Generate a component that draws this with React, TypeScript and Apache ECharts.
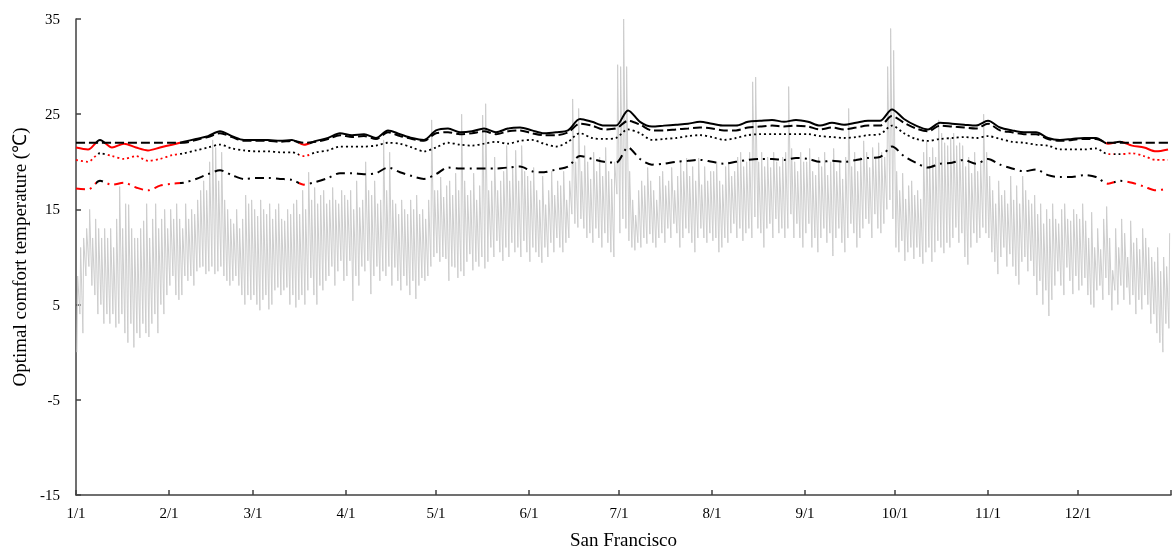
import React, { useEffect, useRef } from "react";
import * as echarts from "echarts";

const monthStarts = [0, 31, 59, 90, 120, 151, 181, 212, 243, 273, 304, 334];
const monthLabels = ["1/1", "2/1", "3/1", "4/1", "5/1", "6/1", "7/1", "8/1", "9/1", "10/1", "11/1", "12/1"];
const yTicks = [-15, -5, 5, 15, 25, 35];
const comfortFloor = 22;

// Daily outdoor temperature envelope (max / min)
const janMax = [8, 11, 12, 13, 15, 12, 14, 13, 12, 13, 12, 13, 11, 14, 17.4, 13, 15.6, 15.5, 13, 12, 12, 13, 13.8, 15.6, 12, 14, 15.6, 13, 14, 15, 13];
const janMin = [0, 4, 2, 8, 9, 7, 6, 4, 5, 3, 4, 3, 4, 2.6, 3, 4, 2, 1, 3, 0.5, 2, 1.5, 3, 2, 1.6, 3, 4, 2, 5, 4, 6];
const febMax = [15, 14, 15.6, 14, 13, 15.6, 14, 15, 14.5, 16, 17, 18, 17, 20, 22.3, 21.5, 18, 21, 16, 15, 14, 13.5, 15, 13, 14, 16.5, 15.6, 16];
const febMin = [7, 8, 6, 5.5, 6, 8, 7.5, 8, 7, 8.5, 8.9, 9, 8.2, 8.5, 9, 8.2, 8.5, 9, 8, 7.5, 7, 7.5, 8, 7, 6, 5, 6, 5.5];
const marMax = [15, 14.3, 16, 15, 14.5, 15.6, 14, 15, 15.6, 14, 13.8, 15, 14.5, 15.6, 16, 14.5, 17, 15, 18.9, 16, 17.3, 15.6, 16.5, 17, 15.6, 16, 17.3, 16, 15.6, 17, 16.5];
const marMin = [6, 5, 4.4, 5.5, 6, 4.5, 5, 6.5, 6.8, 6, 6.5, 6.8, 5, 6, 4.7, 5.5, 6, 5, 6.5, 7.8, 6, 5, 7, 6.5, 7.5, 8, 9, 7, 8.5, 9.6, 7.5];
const aprMax = [16, 17, 15, 18, 15.2, 16, 20, 17, 16.5, 18, 15.6, 16, 22.3, 17, 21, 16, 15.6, 14.5, 16, 15, 14.5, 16, 15, 16.5, 14.5, 15, 14, 16, 24.4, 17];
const aprMin = [8, 9.6, 5.4, 8, 7, 9, 8.5, 9.6, 6.1, 8, 9, 7.5, 8.5, 8, 9, 7, 8.9, 7.5, 6.5, 8, 7, 6, 7.5, 5.6, 7, 7.8, 7.5, 8, 9, 10];
const mayMax = [17, 18.4, 16.3, 17.5, 18, 16.5, 18.8, 17, 25, 18, 16.5, 17, 18.8, 16, 17.5, 24.9, 26.1, 17, 18, 20.5, 17, 18, 19, 21.7, 18, 19.5, 21.2, 18, 21.7, 19, 18.5];
const mayMin = [10.4, 9.5, 10, 9.8, 7.5, 9, 8.9, 7.8, 8.5, 8, 9.5, 10.3, 8.6, 9.5, 9, 10, 8.8, 9.5, 11, 10, 11.7, 10.5, 9.6, 11, 10, 11.5, 10.5, 11, 10, 11.7, 10.5];
const junMax = [18, 19.4, 17, 16, 18.5, 15.5, 17, 19, 16.5, 18, 17.5, 19, 16, 18, 26.6, 20, 25.6, 19, 21.7, 20, 18.2, 21, 19, 20.5, 18.5, 21.5, 19, 18.2, 20, 30.2];
const junMin = [9.5, 11, 10.5, 10, 9.4, 11, 10, 11.5, 10.5, 12, 11, 10.5, 11.5, 12, 14.5, 13.5, 13.1, 14, 13, 12, 12.5, 11.5, 13, 12, 11, 12.5, 11.5, 10.5, 10, 16.6];
const julMax = [30, 35, 30, 19, 16, 14.4, 17, 18, 17.5, 19.4, 18, 17, 16, 18.5, 19, 17.5, 18, 19.4, 17, 18.5, 20, 19, 20.4, 18.5, 19.5, 18, 20.4, 17.6, 19.5, 18, 19];
const julMin = [12.5, 14, 13, 11.7, 11, 10.7, 11.5, 11, 12, 11.4, 12.4, 11.5, 11, 12, 12.5, 11.5, 13, 12, 13.5, 12.5, 11, 12, 13, 12.5, 11.5, 10.5, 12, 13, 12, 11.5, 12.5];
const augMax = [19, 20, 18, 17.6, 19.5, 20, 18.5, 19, 20.5, 21, 19.5, 20, 21, 28.4, 28.9, 20, 21, 19.5, 20.5, 19.4, 21, 20, 19.5, 20.5, 21, 27.9, 21.4, 20, 19, 21, 20];
const augMin = [11.7, 12, 10.5, 11, 12, 11.5, 12.5, 13.5, 12, 13, 11.7, 12.5, 13, 12, 14.2, 13, 12.5, 11, 13, 13.5, 12, 14, 12.5, 13, 12, 13, 14.5, 12, 13.5, 12, 11];
const sepMax = [20, 21.4, 19, 18.6, 20.5, 19.5, 21, 18.6, 20, 21.4, 19, 20, 18.2, 20.5, 25.6, 19.5, 21, 19, 20.5, 22.2, 21, 19.4, 21.5, 20.5, 22, 21, 20.5, 30, 34, 31.7];
const sepMin = [12.5, 13.5, 11, 12, 10.5, 12, 13, 11.5, 12.5, 10.1, 12, 13, 11.5, 10.5, 12, 13.5, 12.5, 11, 12, 13, 14, 13.5, 12, 14.5, 13, 12.5, 13.5, 15, 16, 14];
const octMax = [19, 17, 18.8, 16.1, 17.5, 18, 16.5, 17, 16.1, 21, 22.3, 20.5, 21.5, 20.5, 24.4, 23, 22, 21.7, 22.5, 23, 21.7, 22, 21.7, 19.5, 20.5, 18.8, 21, 19, 20, 25, 21];
const octMin = [11, 10.5, 11.7, 9.6, 10.5, 11, 9.8, 11, 10, 9.3, 10.5, 11, 9.5, 10.5, 11.7, 11, 10.4, 11.5, 11, 12, 13.1, 11.5, 12.5, 10, 9.2, 11, 12.5, 11.5, 12, 13.1, 12.5];
const novMax = [18.5, 17, 15.6, 18, 16.5, 17, 15.6, 18.5, 16, 17.5, 15.6, 18.5, 17, 16, 15.6, 16.5, 14.5, 15.6, 13.5, 15, 14, 15.6, 14, 13.5, 15, 15.6, 14, 13.8, 15, 14.5];
const novMin = [12, 10.5, 9.5, 8.2, 10, 11, 9, 10.3, 9, 8, 7.1, 9.5, 10, 8.5, 9.6, 8, 6, 7.5, 5, 6.5, 3.8, 5.5, 7, 8.5, 7, 6, 8.9, 7.5, 6.1, 8];
const decMax = [14, 15.6, 13.8, 12, 14.7, 11, 13, 10.8, 14, 15.3, 12, 8.6, 13, 11, 14, 12.5, 10, 13.8, 11.5, 12, 10.8, 13, 12, 11, 10, 9.5, 11, 8.5, 10, 9, 12.5];
const decMin = [6.5, 7, 7.8, 6, 5, 4.7, 6.5, 7, 5.5, 7.8, 6, 4.4, 6.5, 5, 7, 5.5, 6.8, 5, 6, 4, 5.5, 4.5, 6, 5, 3, 4, 2, 1, 0, 3, 2.5];

// Comfort-temperature curves, sampled every 4 days
const lineDays = Array.from({ length: 92 }, (_, i) => i * 4);
const solidLine = [
  21.5, 21.3, 22.3, 21.5, 21.9, 21.5, 21.2, 21.5, 21.8, 22.1,
  22.4, 22.7, 23.2, 22.7, 22.3, 22.3, 22.3, 22.2, 22.3, 21.8,
  22.2, 22.5, 23.0, 22.8, 22.9, 22.5, 23.3, 22.9, 22.5, 22.3,
  23.3, 23.5, 23.1, 23.2, 23.5, 23.1, 23.5, 23.6, 23.3, 23.0,
  23.1, 23.3, 24.5, 24.2, 23.8, 23.8, 25.4, 24.2, 23.7, 23.8,
  23.9, 24.0, 24.2, 24.0, 23.8, 23.8, 24.2, 24.3, 24.4, 24.2,
  24.4, 24.2, 23.8, 24.1, 23.9, 24.1, 24.3, 24.3, 25.5, 24.5,
  23.8, 23.4, 24.1, 24.0, 23.9, 23.8, 24.3, 23.6, 23.3, 23.1,
  23.1, 22.5, 22.3, 22.4, 22.5, 22.5, 21.9, 22.1, 21.7, 21.5,
  21.1, 21.3,
];
const dashedLine = [
  22, 22, 22, 22, 22, 22, 22, 22, 22, 22.0,
  22.3, 22.6, 23.0, 22.6, 22.2, 22.2, 22.2, 22.1, 22.2, 22.0,
  22.1, 22.4, 22.8, 22.6, 22.7, 22.4, 23.1, 22.7, 22.4, 22.2,
  23.0, 23.1, 22.9, 23.0, 23.2, 22.9, 23.2, 23.3, 23.0, 22.8,
  22.8, 23.1, 24.0, 23.8, 23.4, 23.5, 24.3, 23.9, 23.3, 23.3,
  23.4, 23.5, 23.6, 23.5, 23.3, 23.3, 23.6, 23.7, 23.8, 23.7,
  23.8, 23.7, 23.4, 23.6, 23.4, 23.6, 23.8, 23.8, 24.8, 24.1,
  23.5, 23.2, 23.8, 23.7, 23.6, 23.5, 24.0, 23.3, 23.1, 22.9,
  22.9, 22.4, 22.2, 22.3, 22.4, 22.4, 22.0, 22.0, 22.0, 22.0,
  22.0, 22.0,
];
const dottedLine = [
  20.2, 20.0, 20.9, 20.6, 20.3, 20.6, 20.1, 20.3, 20.7, 20.9,
  21.2, 21.5, 21.8, 21.4, 21.2, 21.1, 21.1, 21.0, 21.0, 20.6,
  21.0, 21.2, 21.6, 21.6, 21.6, 21.7, 22.0, 21.9, 21.5, 21.1,
  21.5, 22.0, 21.8, 21.7, 21.9, 22.1, 21.9, 22.2, 22.3, 21.9,
  21.6, 22.1, 23.0, 22.5, 22.4, 22.5, 23.4, 23.0, 22.3, 22.4,
  22.5, 22.7, 22.8, 22.6, 22.3, 22.5, 22.8, 22.9, 22.9, 22.9,
  22.9, 22.9, 22.7, 22.6, 22.5, 22.6, 22.8, 22.9, 23.8, 23.0,
  22.4, 22.2, 22.4, 22.5, 22.6, 22.5, 22.7, 22.4, 22.1, 22.0,
  21.8, 21.7, 21.3, 21.3, 21.3, 21.4, 20.8, 20.8, 20.9, 20.6,
  20.2, 20.2,
];
const dashDotLine = [
  17.2, 17.1, 18.0, 17.6, 17.8, 17.3, 17.0, 17.5, 17.7, 17.8,
  18.2, 18.7, 19.1, 18.6, 18.2, 18.3, 18.3, 18.2, 18.1, 17.6,
  17.9, 18.3, 18.8, 18.8, 18.7, 18.8, 19.4, 18.9, 18.5, 18.2,
  18.7, 19.4, 19.3, 19.3, 19.3, 19.3, 19.4, 19.5, 19.0, 18.9,
  19.2, 19.5, 20.6, 20.3, 20.0, 19.9, 21.5, 20.3, 19.7, 19.8,
  20.0, 20.1, 20.2, 20.0, 19.8, 20.0, 20.2, 20.3, 20.3, 20.2,
  20.4, 20.3, 20.0, 20.1, 20.0, 20.2, 20.4, 20.5, 21.6, 20.6,
  19.9, 19.4, 19.8, 19.9, 20.2, 19.8, 20.3, 19.7, 19.3, 19.0,
  19.2, 18.6, 18.4, 18.4, 18.6, 18.4, 17.7, 18.0, 17.8, 17.4,
  17.0, 17.2,
];

const RED = "#ff0000";
const BLACK = "#000000";
const FONT = "Liberation Serif";

export default function App() {
  const ref = useRef<HTMLDivElement>(null);

  useEffect(() => {
    if (!ref.current) return;
    const chart = echarts.init(ref.current, null, { renderer: "svg" });

    const dailyMax = [...janMax, ...febMax, ...marMax, ...aprMax, ...mayMax, ...junMax, ...julMax, ...augMax, ...sepMax, ...octMax, ...novMax, ...decMax];
    const dailyMin = [...janMin, ...febMin, ...marMin, ...aprMin, ...mayMin, ...junMin, ...julMin, ...augMin, ...sepMin, ...octMin, ...novMin, ...decMin];
    const gray: number[][] = [];
    for (let i = 0; i < dailyMax.length; i++) {
      gray.push([i + 0.3, dailyMin[i]]);
      gray.push([i + 0.55, dailyMax[i]]);
    }
    const pts = (arr: number[]) => lineDays.map((d, i) => [d, arr[i]]);

    // red where the upper curve falls below the comfort floor
    const pieces: any[] = [];
    let start = -10;
    let cur = solidLine[0] < comfortFloor;
    for (let i = 1; i < lineDays.length; i++) {
      const b = solidLine[i] < comfortFloor;
      if (b !== cur) {
        const v0 = solidLine[i - 1] - comfortFloor;
        const v1 = solidLine[i] - comfortFloor;
        const x = lineDays[i - 1] + ((lineDays[i] - lineDays[i - 1]) * v0) / (v0 - v1);
        pieces.push({ gte: start, lt: x, color: cur ? RED : BLACK });
        start = x;
        cur = b;
      }
    }
    pieces.push({ gte: start, lte: 400, color: cur ? RED : BLACK });

    const labelStyle = { color: "#000", fontFamily: FONT, fontSize: 15 };
    const nameStyle = { color: "#000", fontFamily: FONT, fontSize: 19 };
    const axisLineStyle = { color: "#404040", width: 1.5 };

    chart.setOption({
      animation: false,
      grid: { left: 76, right: 3, top: 19, bottom: 59 },
      xAxis: {
        type: "value",
        min: 0,
        max: 365,
        name: "San Francisco",
        nameLocation: "middle",
        nameGap: 35,
        nameTextStyle: nameStyle,
        axisLine: { show: true, onZero: false, lineStyle: axisLineStyle },
        axisTick: { show: true, inside: true, length: 5, customValues: [...monthStarts, 365], lineStyle: axisLineStyle },
        axisLabel: {
          ...labelStyle,
          margin: 10,
          customValues: monthStarts,
          formatter: (v: number) => {
            const k = monthStarts.indexOf(Math.round(v));
            return k >= 0 ? monthLabels[k] : "";
          },
        },
        splitLine: { show: false },
      },
      yAxis: {
        type: "value",
        min: -15,
        max: 35,
        name: "Optimal comfort temperature (℃)",
        nameLocation: "middle",
        nameGap: 47,
        nameTextStyle: nameStyle,
        axisLine: { show: true, onZero: false, lineStyle: axisLineStyle },
        axisTick: { show: true, inside: true, length: 5, customValues: yTicks, lineStyle: axisLineStyle },
        axisLabel: { ...labelStyle, margin: 16, customValues: yTicks },
        splitLine: { show: false },
      },
      visualMap: {
        type: "piecewise",
        show: false,
        dimension: 0,
        seriesIndex: [1, 3, 4],
        pieces,
      },
      series: [
        {
          type: "line",
          data: gray,
          showSymbol: false,
          symbol: "none",
          silent: true,
          color: "#cdcdcd",
          lineStyle: { color: "#cdcdcd", width: 1 },
        },
        {
          type: "line",
          data: pts(solidLine),
          showSymbol: false,
          symbol: "none",
          smooth: 0.3,
          lineStyle: { width: 2, type: "solid" },
        },
        {
          type: "line",
          data: pts(dashedLine),
          showSymbol: false,
          symbol: "none",
          smooth: 0.3,
          color: BLACK,
          lineStyle: { width: 2, color: BLACK, type: [9, 4] },
        },
        {
          type: "line",
          data: pts(dottedLine),
          showSymbol: false,
          symbol: "none",
          smooth: 0.3,
          lineStyle: { width: 1.8, type: [2, 3] },
        },
        {
          type: "line",
          data: pts(dashDotLine),
          showSymbol: false,
          symbol: "none",
          smooth: 0.3,
          lineStyle: { width: 2, type: [9, 5, 2, 5] },
        },
      ],
    });

    return () => chart.dispose();
  }, []);

  return <div ref={ref} style={{ position: "fixed", left: 0, top: 0, width: 1174, height: 554 }} />;
}
